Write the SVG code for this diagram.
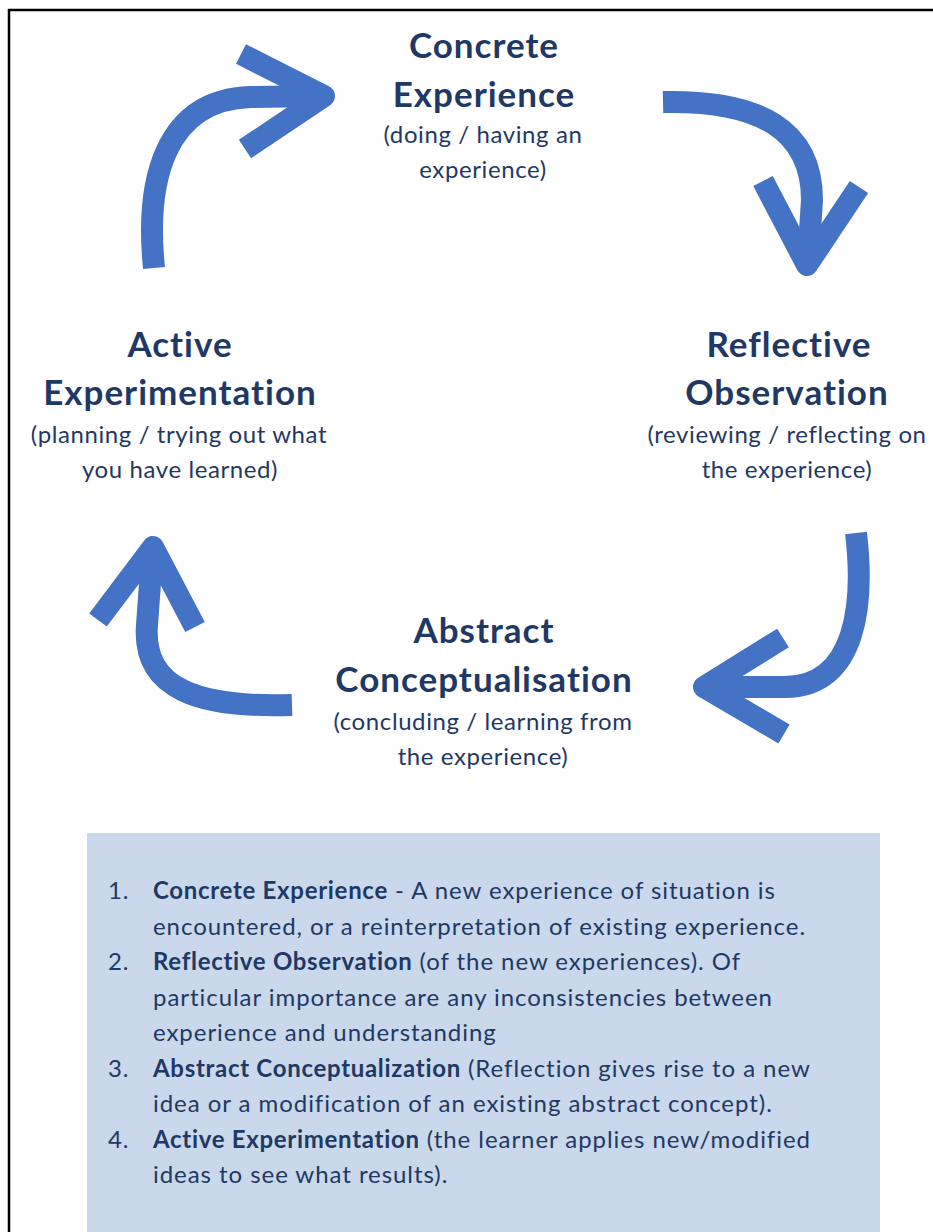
<svg xmlns="http://www.w3.org/2000/svg" width="933" height="1232" viewBox="0 0 933 1232">
<style>
.t{font-family:Lato,"Noto Sans","Liberation Sans",sans-serif;fill:#1f3864;text-anchor:middle}
.h{font-size:35px;font-weight:700;letter-spacing:1px}
.s{font-size:24px;letter-spacing:0.6px}
.l{font-family:Lato,"Noto Sans","Liberation Sans",sans-serif;fill:#1f3864;font-size:24px;letter-spacing:0.95px}
.b{font-weight:700;letter-spacing:0.7px}
.a{fill:none;stroke:#4472c4;stroke-width:22}
.hd{fill:none;stroke:#4472c4;stroke-width:22;stroke-linejoin:round}
</style>
<rect x="0" y="0" width="933" height="1232" fill="#ffffff"/>
<path d="M9,1232 V10 H933" fill="none" stroke="#000" stroke-width="2.5"/>
<rect id="legend-box" x="87" y="833" width="793" height="399" fill="#c9d8ea"/>
<g id="connectors">
<path class="a" d="M154,268 C145,180 165,100 250,97 L318,96"/>
<polyline class="hd" points="241,54 324,96 245,149"/>
<path class="a" d="M663,102 C760,100 812,130 812,200 L808,262"/>
<polyline class="hd" points="763,181 807,265 859,187"/>
<path class="a" d="M856,533 C864,600 858,687 785,687 L710,687"/>
<polyline class="hd" points="783,638 704,687 784,734"/>
<path class="a" d="M292,705 C200,708 142,690 147,625 L152,556"/>
<polyline class="hd" points="98,620 153,547 195,627"/>
</g>
<g id="concrete-experience">
<text class="t h" x="484" y="58">Concrete</text>
<text class="t h" x="484" y="107">Experience</text>
<text class="t s" x="483" y="143">(doing / having an</text>
<text class="t s" x="483" y="178">experience)</text>
</g>
<g id="reflective-observation">
<text class="t h" x="789" y="357">Reflective</text>
<text class="t h" x="787" y="405">Observation</text>
<text class="t s" x="787" y="443">(reviewing / reflecting on</text>
<text class="t s" x="787" y="478">the experience)</text>
</g>
<g id="abstract-conceptualisation">
<text class="t h" x="484" y="643">Abstract</text>
<text class="t h" x="484" y="692">Conceptualisation</text>
<text class="t s" x="483" y="730">(concluding / learning from</text>
<text class="t s" x="483" y="765">the experience)</text>
</g>
<g id="active-experimentation">
<text class="t h" x="180" y="357">Active</text>
<text class="t h" x="180" y="405">Experimentation</text>
<text class="t s" x="179" y="443">(planning / trying out what</text>
<text class="t s" x="180" y="478">you have learned)</text>
</g>
<g id="legend">
<text class="l" x="108" y="899">1.</text>
<text class="l" x="153" y="899"><tspan class="b">Concrete Experience</tspan> - A new experience of situation is</text>
<text class="l" x="153" y="935">encountered, or a reinterpretation of existing experience.</text>
<text class="l" x="108" y="970">2.</text>
<text class="l" x="153" y="970"><tspan class="b">Reflective Observation</tspan> (of the new experiences). Of</text>
<text class="l" x="153" y="1006">particular importance are any inconsistencies between</text>
<text class="l" x="153" y="1041">experience and understanding</text>
<text class="l" x="108" y="1077">3.</text>
<text class="l" x="153" y="1077"><tspan class="b">Abstract Conceptualization</tspan> (Reflection gives rise to a new</text>
<text class="l" x="153" y="1112">idea or a modification of an existing abstract concept).</text>
<text class="l" x="108" y="1148">4.</text>
<text class="l" x="153" y="1148"><tspan class="b">Active Experimentation</tspan> (the learner applies new/modified</text>
<text class="l" x="153" y="1183">ideas to see what results).</text>
</g>
</svg>
